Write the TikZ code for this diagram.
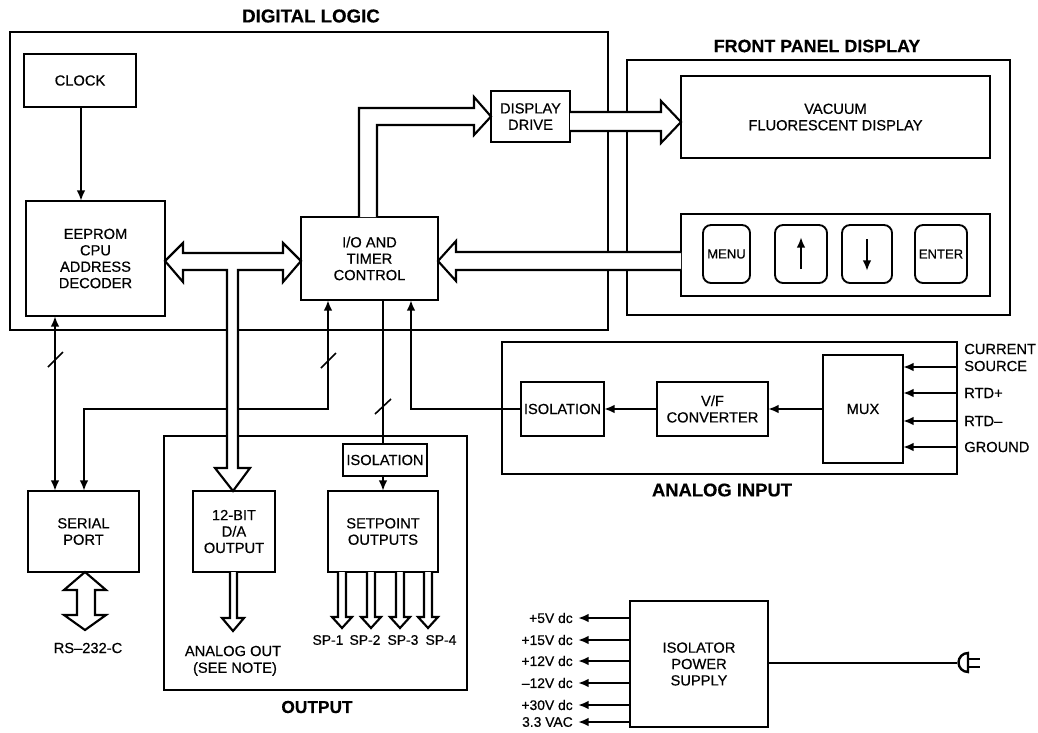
\documentclass[tikz,border=0pt]{standalone}
\usepackage{fontspec}
\setmainfont[RawFeature={embolden=0.5}]{Liberation Sans}
\newfontfamily\titlefont[RawFeature={embolden=0.4}]{Liberation Sans Bold}
\usetikzlibrary{arrows.meta,calc}
\newcommand\bx[6][]{%
  \pgfmathsetmacro\bw{(#4-#2)*0.75}\pgfmathsetmacro\bh{(#5-#3)*0.75}%
  \pgfmathsetmacro\bcx{(#2+#4)/2}\pgfmathsetmacro\bcy{(#3+#5)/2}%
  \node[blk,minimum width=\bw pt,minimum height=\bh pt,#1] (#6) at (\bcx,\bcy)}
\newcommand\ttl[1]{\fontsize{#1}{15}\titlefont\selectfont}
\tikzset{
  blk/.style={draw=black,line width=1.7pt,fill=none,outer sep=0pt,inner sep=0pt,align=center,font=\fontsize{11}{12.3}\selectfont},
  btn/.style={rounded corners=6pt,line width=1.4pt},
  tiny/.style={font=\fontsize{9.8}{12}\selectfont},
  title/.style={inner sep=0pt},
  lbl/.style={inner sep=0pt,align=center,font=\fontsize{11}{13}\selectfont},
  sml/.style={inner sep=0pt,align=center,font=\fontsize{10.4}{13}\selectfont},
  conn/.style={line width=1.7pt},
  arr/.style={conn,-{Latex[length=8pt,width=6.5pt]}},
  darr/.style={conn,{Latex[length=8pt,width=6.5pt]}-{Latex[length=8pt,width=6.5pt]}},
  wide/.style={draw=black,fill=white,line width=1.6pt,miter limit=4},
}
\begin{document}
\begin{tikzpicture}[x=0.75pt,y=-0.75pt]
\useasboundingbox (0,0) rectangle (1038,732);
% containers
\bx{10}{32}{608}{330}{digital}{};
\bx{627}{60}{1010}{315}{front}{};
\bx{502}{342}{957}{474}{analog}{};
\bx{164}{436}{467}{690}{output}{};
% titles
\node[title,font=\ttl{14}] (tdigital) at (311,16) {DIGITAL LOGIC};
\node[title,font=\ttl{13.4}] (tfront) at (817,46) {FRONT PANEL DISPLAY};
\node[title,font=\ttl{13.8}] (tanalog) at (722,490) {ANALOG INPUT};
\node[title,font=\ttl{13}] (toutput) at (317,707) {OUTPUT};
% blocks
\bx{24}{54}{136}{107}{clock}{CLOCK};
\bx{26}{201}{165}{316}{eeprom}{EEPROM\\CPU\\ADDRESS\\DECODER};
\bx{301}{217}{438}{300}{io}{I/O AND\\TIMER\\CONTROL};
\bx{491}{91}{570}{142}{drive}{DISPLAY\\DRIVE};
\bx{681}{76}{990}{158}{vfd}{VACUUM\\FLUORESCENT DISPLAY};
\bx{681}{214}{990}{296}{keys}{};
\bx[btn,tiny]{703}{225}{750}{283}{menu}{MENU};
\bx[btn]{775}{225}{827}{283}{up}{};
\bx[btn]{842}{225}{892}{283}{down}{};
\bx[btn,tiny]{915}{225}{967}{283}{enter}{ENTER};
\bx{521}{382}{604}{436}{isoa}{ISOLATION};
\bx{657}{382}{768}{436}{vf}{V/F\\CONVERTER};
\bx{823}{355}{903}{463}{mux}{MUX};
\bx{343}{444}{427}{476}{isob}{ISOLATION};
\bx{193}{491}{275}{572}{dac}{12-BIT\\D/A\\OUTPUT};
\bx{328}{491}{438}{572}{setp}{SETPOINT\\OUTPUTS};
\bx{28}{491}{139}{572}{serial}{SERIAL\\PORT};
\bx{630}{601}{768}{727}{power}{ISOLATOR\\POWER\\SUPPLY};
% key arrows
\draw[arr] ($(up.center)+(0,15)$) -- ($(up.center)+(0,-17)$);
\draw[arr] ($(down.center)+(0,-15)$) -- ($(down.center)+(0,17)$);
% thin connectors
\draw[arr] (clock.south -| 81,0) -- (eeprom.north -| 81,0);
\draw[darr] (eeprom.south -| 55,0) -- (serial.north -| 55,0);
\draw[darr] (serial.north -| 84,0) |- (328,409) -- (io.south -| 328,0);
\draw[conn] (io.south -| 383,0) -- (isob.north -| 383,0);
\draw[arr] (isob.south -| 383,0) -- (setp.north -| 383,0);
\draw[arr] (isoa.west) -| (io.south -| 411,0);
\draw[arr] (vf.west) -- (isoa.east);
\draw[arr] (mux.west) -- (vf.east);
\coordinate (ina) at (957,367);
\coordinate (inb) at (957,393);
\coordinate (inc) at (957,421);
\coordinate (ind) at (957,447);
\foreach \c in {ina,inb,inc,ind} \draw[arr] (\c) -- (\c -| mux.east);
% slashes
\draw[line width=1.2pt] (48,367) -- (63,352);
\draw[line width=1.2pt] (321,368) -- (336,353);
\draw[line width=1.2pt] (375,414) -- (391,399);
% wide arrows
\draw[wide] (io.north -| 359,0) -- (359,108) -- (474,108) -- (474,97) -- (drive.west) -- (474,135) -- (474,125) -- (377,125) -- (io.north -| 377,0);
\draw[wide] (drive.east |- 0,112) -- (661,112) -- (661,101) -- (vfd.west |- 0,122) -- (661,143) -- (661,131) -- (drive.east |- 0,131);
\draw[wide] (keys.west |- 0,252) -- (456,252) -- (456,241) -- (io.east |- 0,261) -- (456,281) -- (456,270) -- (keys.west |- 0,270);
\draw[wide] (eeprom.east |- 0,261) -- (183,243) -- (183,253) -- (283,253) -- (283,243) -- (io.west |- 0,261) -- (283,282) -- (283,270) -- (238,270) -- (238,468) -- (250,468) -- (dac.north -| 233,0) -- (215,468) -- (227,468) -- (227,270) -- (183,270) -- (183,282) -- cycle;
\draw[wide] (dac.south -| 230,0) -- (230,618) -- (222,618) -- (233,631) -- (244,618) -- (237,618) -- (dac.south -| 237,0);
\foreach \x in {342,371,400,428}
  \draw[wide] (setp.south -| \x-4,0) -- (\x-4,617) -- (\x-10,617) -- (\x,628) -- (\x+10,617) -- (\x+4,617) -- (setp.south -| \x+4,0);
\draw[wide] (serial.south -| 85,0) -- (106,590) -- (95,590) -- (95,615) -- (106,615) -- (85,630) -- (64,615) -- (77,615) -- (77,590) -- (64,590) -- cycle;
% labels
\node[lbl] (rs) at (88,648) {RS–232-C};
\node[lbl] (aout) at (233,651) {ANALOG OUT};
\node[lbl] (note) at (235,669) {(SEE NOTE)};
\node[sml] (sp1) at (328,640) {SP-1};
\node[sml] (sp2) at (365,640) {SP-2};
\node[sml] (sp3) at (403,640) {SP-3};
\node[sml] (sp4) at (441,640) {SP-4};
\node[lbl,anchor=west] (cs1) at (964,349) {CURRENT};
\node[lbl,anchor=west] (cs2) at (964,366) {SOURCE};
\node[lbl,anchor=west] (rp) at (964,393) {RTD+};
\node[lbl,anchor=west] (rm) at (964,421) {RTD–};
\node[lbl,anchor=west] (gnd) at (964,447) {GROUND};
% power
\foreach \yy/\nm/\tx in {618/a/+5V dc,640/b/+15V dc,661/c/+12V dc,683/d/–12V dc,705/e/+30V dc,722/f/3.3 VAC}{
  \node[sml,anchor=east] (v\nm) at (573,\yy) {\tx};
  \draw[arr] (power.west |- v\nm) -- (578,\yy);
}
% plug
\coordinate (plug) at (957,663);
\draw[conn] (power.east |- plug) -- (plug);
\draw[line width=1.8pt,fill=white] (968,653) arc (270:90:9.5) -- cycle;
\draw[line width=2.2pt] (968,659) -- (980,659) (968,667) -- (980,667);
\end{tikzpicture}
\end{document}
